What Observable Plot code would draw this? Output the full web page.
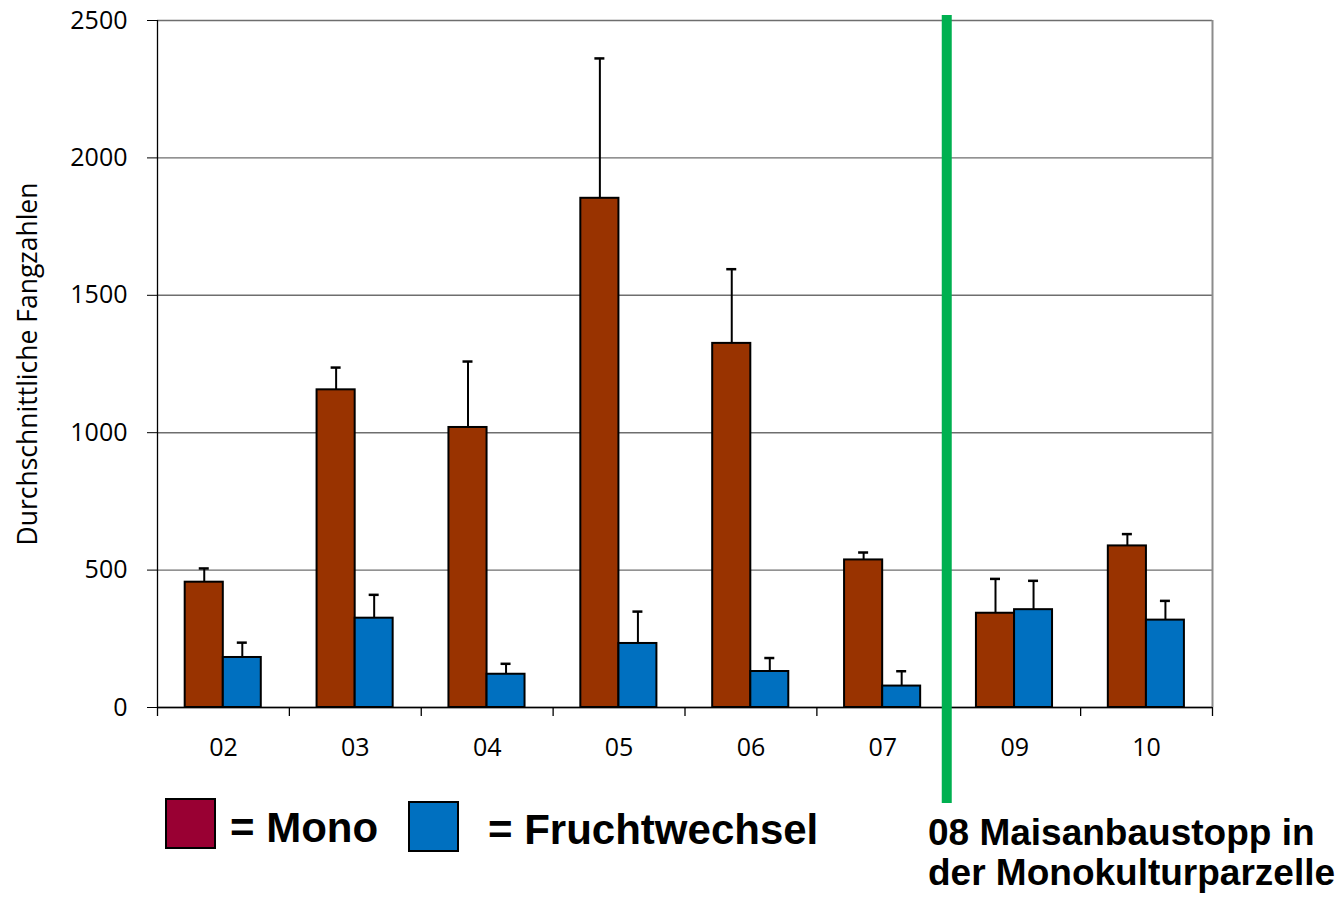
<!DOCTYPE html>
<html>
<head>
<meta charset="utf-8">
<script src="https://cdn.jsdelivr.net/npm/d3@7"></script>
<script src="https://cdn.jsdelivr.net/npm/@observablehq/plot@0.6"></script>
<style>
  html, body { margin: 0; padding: 0; background: #fff; }
  #wrap { position: relative; width: 1342px; height: 898px; overflow: hidden; }
  #wrap svg { position: absolute; left: 0; top: 0; overflow: visible; }
  .sw { position: absolute; width: 47px; height: 47px; border: 2px solid #000; box-sizing: content-box; }
  .lt { position: absolute; font-family: "Liberation Sans", Arial, sans-serif; font-weight: bold; font-size: 42px; line-height: 50px; color: #000; white-space: pre; }
  #note { position: absolute; left: 928px; top: 813px; font-family: "Liberation Sans", Arial, sans-serif; font-weight: bold; font-size: 37px; line-height: 40px; color: #000; white-space: nowrap; }
</style>
</head>
<body>
<div id="wrap">
  <div class="sw" style="left:165px; top:798px; background:#990033;"></div>
  <div class="lt" style="left:230px; top:803px;">= Mono</div>
  <div class="sw" style="left:408px; top:801px; background:#0070C0;"></div>
  <div class="lt" style="left:488px; top:805px;">= Fruchtwechsel</div>
  <div id="note">08 Maisanbaustopp in<br>der Monokulturparzelle</div>
</div>
<script>
// Data
const years = ["02", "03", "04", "05", "06", "07", "09", "10"];
const mono = [456, 1156, 1019, 1853, 1325, 537, 343, 588];
const monoErr = [506, 1237, 1259, 2362, 1595, 564, 468, 631];
const frucht = [182, 325, 121, 233, 131, 78, 356, 318];
const fruchtErr = [236, 410, 159, 349, 180, 132, 461, 388];
const yTicks = [0, 500, 1000, 1500, 2000, 2500];
const yLabel = "Durchschnittliche Fangzahlen";
const stopYear = "09"; // green marker drawn at the start of this category (08 stop)

const rows = years.map((c, i) => ({cat: c, mono: mono[i], monoErr: monoErr[i], frucht: frucht[i], fruchtErr: fruchtErr[i]}));

const W = 1342, H = 810, mL = 157, mR = 130, mT = 20, mB = 103;
const bw = (W - mL - mR) / years.length;
// relative layout of the two bars inside a category band
const a0 = 0.21, a1 = 0.499, a2 = 0.787;
const cM = (a0 + a1) / 2, cF = (a1 + a2) / 2;
const cap = 5;
const pxPerUnit = (H - mT - mB) / 2500;

const font = "'Open Sans', sans-serif";

const plot = Plot.plot({
  width: W, height: H,
  marginLeft: mL, marginRight: mR, marginTop: mT, marginBottom: mB,
  style: {fontFamily: font, fontSize: "25px", color: "#000", background: "transparent"},
  x: {domain: years, padding: 0, round: false, label: null},
  y: {domain: [0, 2500], ticks: yTicks, label: null},
  marks: [
    Plot.gridY(yTicks, {stroke: "#6e6e6e", strokeOpacity: 1, strokeWidth: 1.4}),
    Plot.ruleX([years[years.length - 1]], {dx: bw / 2, y1: 0, y2: 2500, stroke: "#8c8c8c", strokeWidth: 2}),
    Plot.axisY({ticks: yTicks, tickSize: 10, tickPadding: 20, tickFormat: d => String(d), label: null, stroke: "#000", fontSize: 25, fontFamily: font}),
    Plot.ruleX([years[0]], {dx: -bw / 2, y1: 0, y2: 2500, stroke: "#000", strokeWidth: 1.3}),
    Plot.axisX({tickSize: 0, tickPadding: 31, label: null, fontSize: 25, fontFamily: font}),
    Plot.ruleX(years, {dx: -bw / 2, y1: 0, y2: -9 / pxPerUnit, stroke: "#000", strokeWidth: 1.3}),
    Plot.ruleX([years[years.length - 1]], {dx: bw / 2, y1: 0, y2: -9 / pxPerUnit, stroke: "#000", strokeWidth: 1.3}),
    Plot.ruleY([0], {stroke: "#000", strokeWidth: 1.3}),
    Plot.text([yLabel], {text: d => d, frameAnchor: "left", textAnchor: "middle", rotate: -90, dx: -129, fontSize: 26.5, fontFamily: font, fill: "#000"}),
    // error bars
    Plot.ruleX(rows, {x: "cat", y1: "mono", y2: "monoErr", dx: (cM - 0.5) * bw, stroke: "#000", strokeWidth: 2}),
    Plot.tickY(rows, {x: "cat", y: "monoErr", insetLeft: cM * bw - cap, insetRight: (1 - cM) * bw - cap, stroke: "#000", strokeWidth: 2.5}),
    Plot.ruleX(rows, {x: "cat", y1: "frucht", y2: "fruchtErr", dx: (cF - 0.5) * bw, stroke: "#000", strokeWidth: 2}),
    Plot.tickY(rows, {x: "cat", y: "fruchtErr", insetLeft: cF * bw - cap, insetRight: (1 - cF) * bw - cap, stroke: "#000", strokeWidth: 2.5}),
    // bars
    Plot.barY(rows, {x: "cat", y: "mono", insetLeft: a0 * bw, insetRight: (1 - a1) * bw, fill: "#993300", stroke: "#000", strokeWidth: 2}),
    Plot.barY(rows, {x: "cat", y: "frucht", insetLeft: a1 * bw, insetRight: (1 - a2) * bw, fill: "#0070C0", stroke: "#000", strokeWidth: 2}),
    // green separator (maize stop in 08)
    Plot.ruleX([stopYear], {dx: -bw / 2 - 2, y1: 2500 + 5 / pxPerUnit, y2: -96 / pxPerUnit, stroke: "#00B050", strokeWidth: 10})
  ]
});
document.getElementById("wrap").prepend(plot);
</script>
</body>
</html>
